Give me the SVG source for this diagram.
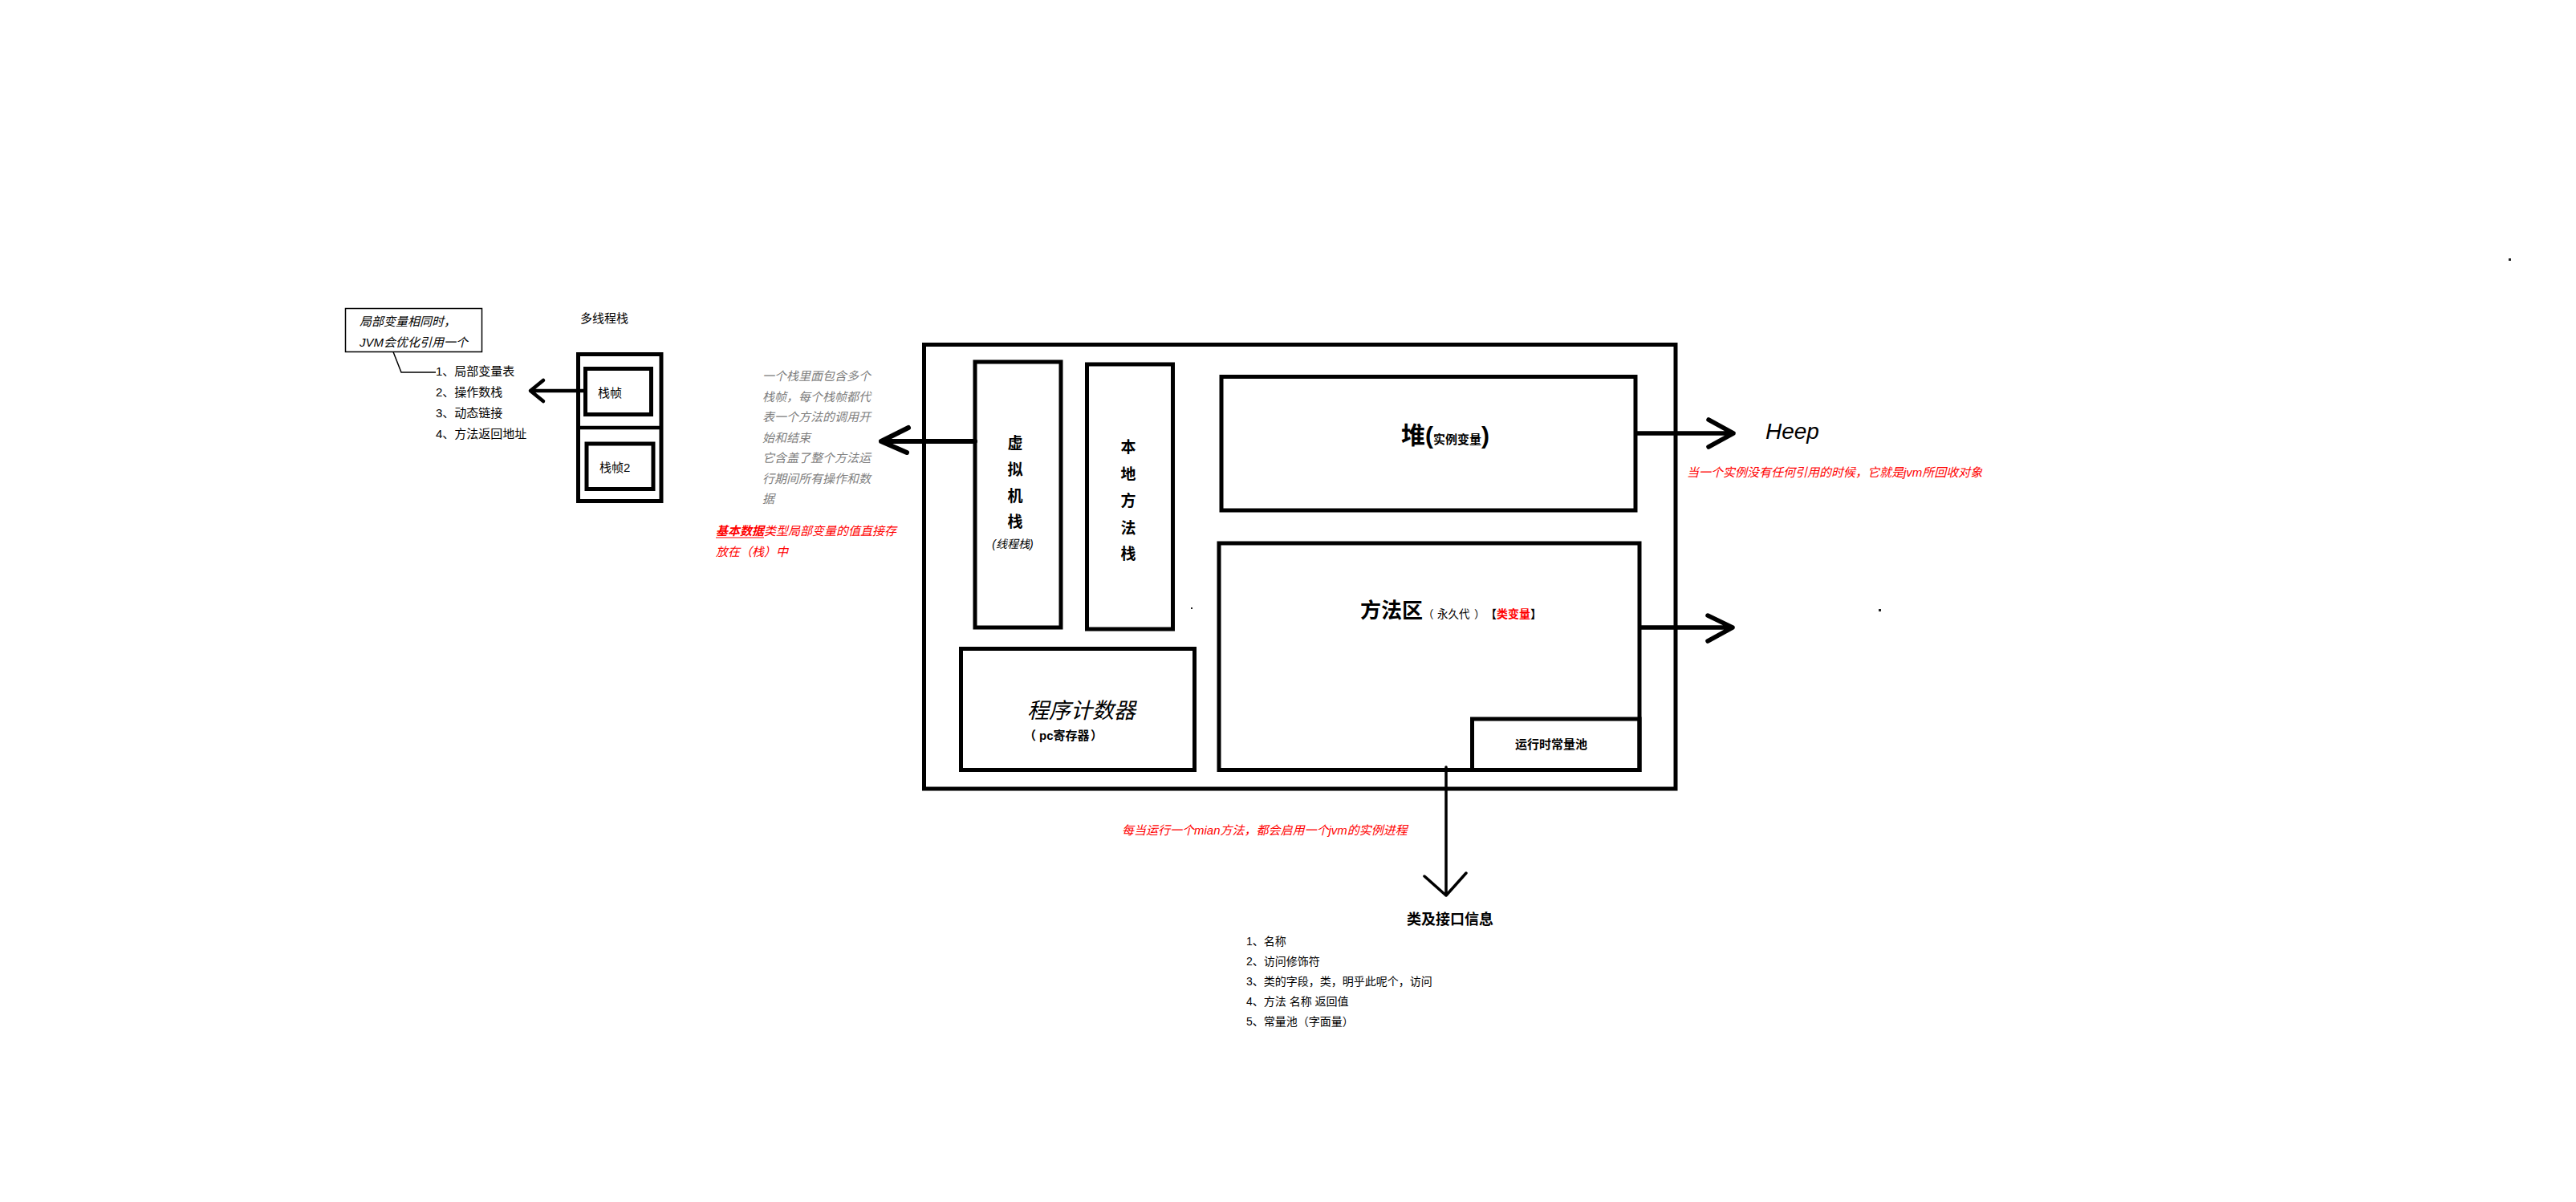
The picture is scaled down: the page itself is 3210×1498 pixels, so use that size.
<svg xmlns="http://www.w3.org/2000/svg" width="3210" height="1498" viewBox="0 0 3210 1498">
<style>
text{font-family:"Liberation Sans","Noto Sans CJK SC",sans-serif;fill:#000}
.box{fill:none;stroke:#000;stroke-width:5}
.thin{fill:none;stroke:#000;stroke-width:1.5}
.conn{fill:none;stroke:#000;stroke-linecap:round;stroke-linejoin:round}
.red{fill:#f00}
.gray{fill:#7f7f7f}
.it{font-style:italic}
.b{font-weight:bold}
.dot{fill:#222}
</style>
<rect width="3210" height="1498" fill="#fff"/>

<g id="note">
<rect x="430.5" y="384.5" width="170" height="54" class="thin"/>
<text x="448" y="406" font-size="15" class="it">局部变量相同时，</text>
<text x="448" y="432" font-size="15" class="it">JVM会优化引用一个</text>
</g>

<g id="frame-contents">
<text x="543" y="468" font-size="15">1、局部变量表</text>
<text x="543" y="494" font-size="15">2、操作数栈</text>
<text x="543" y="520" font-size="15">3、动态链接</text>
<text x="543" y="546" font-size="15">4、方法返回地址</text>
</g>

<g id="thread-stack">
<text x="723" y="402" font-size="15">多线程栈</text>
<rect x="720.5" y="441.5" width="103.5" height="183" class="box"/>
<line x1="720.5" y1="533" x2="824" y2="533" stroke="#000" stroke-width="4.5"/>
</g>
<g id="frame1">
<rect x="729.5" y="459.5" width="82" height="57" class="box"/>
<text x="745" y="495" font-size="15">栈帧</text>
</g>
<g id="frame2">
<rect x="731" y="553" width="83" height="56.5" class="box"/>
<text x="747" y="588" font-size="15">栈帧2</text>
</g>

<g id="stack-desc">
<text x="950" y="474" font-size="15" class="it gray">一个栈里面包含多个</text>
<text x="950" y="500" font-size="15" class="it gray">栈帧，每个栈帧都代</text>
<text x="950" y="525" font-size="15" class="it gray">表一个方法的调用开</text>
<text x="950" y="551" font-size="15" class="it gray">始和结束</text>
<text x="950" y="576" font-size="15" class="it gray">它含盖了整个方法运</text>
<text x="950" y="602" font-size="15" class="it gray">行期间所有操作和数</text>
<text x="950" y="627" font-size="15" class="it gray">据</text>
</g>

<g id="primitive-note">
<text x="892" y="667" font-size="15" class="it red"><tspan class="b">基本数据</tspan>类型局部变量的值直接存</text>
<line x1="892" y1="670" x2="952" y2="670" stroke="#f00" stroke-width="1.2"/>
<text x="892" y="693" font-size="15" class="it red">放在（栈）中</text>
</g>

<g id="jvm">
<rect x="1151.5" y="429.5" width="936.5" height="553.5" class="box"/>
</g>

<g id="vm-stack">
<rect x="1215" y="451" width="107" height="331" class="box"/>
<text x="1265" y="559" font-size="19" class="b" text-anchor="middle">虚</text>
<text x="1265" y="592" font-size="19" class="b" text-anchor="middle">拟</text>
<text x="1265" y="625" font-size="19" class="b" text-anchor="middle">机</text>
<text x="1265" y="657" font-size="19" class="b" text-anchor="middle">栈</text>
<text x="1262" y="683" font-size="14" class="it" text-anchor="middle">(线程栈)</text>
</g>

<g id="native-stack">
<rect x="1354.5" y="454" width="107" height="330" class="box"/>
<text x="1406" y="564" font-size="19" class="b" text-anchor="middle">本</text>
<text x="1406" y="598" font-size="19" class="b" text-anchor="middle">地</text>
<text x="1406" y="631" font-size="19" class="b" text-anchor="middle">方</text>
<text x="1406" y="665" font-size="19" class="b" text-anchor="middle">法</text>
<text x="1406" y="697" font-size="19" class="b" text-anchor="middle">栈</text>
</g>

<g id="pc">
<rect x="1197.5" y="808.5" width="291" height="151" class="box"/>
<text x="1280" y="895" font-size="27" class="it">程序计数器</text>
<text y="922" font-size="15" class="b"><tspan x="1276">（</tspan><tspan x="1295">pc寄存器</tspan><tspan x="1359">）</tspan></text>
</g>

<g id="heap">
<rect x="1522" y="469.5" width="516" height="166.5" class="box"/>
<text x="1746" y="553" font-size="30" class="b">堆<tspan>(</tspan><tspan font-size="15">实例变量</tspan><tspan>)</tspan></text>
</g>

<g id="method-area">
<rect x="1519" y="677" width="524" height="282.5" class="box"/>
<text x="1695" y="770" font-size="26" class="b">方法区</text>
<text y="770" font-size="13.5"><tspan x="1773">（</tspan><tspan x="1791">永久代</tspan><tspan x="1837">）</tspan></text>
<text x="1851" y="770" font-size="14" class="b">【<tspan class="red">类变量</tspan>】</text>
</g>

<g id="constant-pool">
<rect x="1834.5" y="896" width="208.5" height="63.5" class="box"/>
<text x="1888" y="933" font-size="15" class="b">运行时常量池</text>
</g>

<g id="heep">
<text x="2200" y="547" font-size="28" class="it">Heep</text>
<text x="2102" y="594" font-size="15" class="it red">当一个实例没有任何引用的时候，它就是jvm所回收对象</text>
</g>

<g id="main-note">
<text x="1398" y="1040" font-size="15" class="it red">每当运行一个mian方法，都会启用一个jvm的实例进程</text>
</g>

<g id="class-info">
<text x="1753" y="1152" font-size="18" class="b">类及接口信息</text>
<text x="1553" y="1178" font-size="14">1、名称</text>
<text x="1553" y="1203" font-size="14">2、访问修饰符</text>
<text x="1553" y="1228" font-size="14">3、类的字段，类，明乎此呢个，访问</text>
<text x="1553" y="1253" font-size="14">4、方法 名称 返回值</text>
<text x="1553" y="1278" font-size="14">5、常量池（字面量）</text>
</g>

<g id="connectors">
<path d="M490,438.5 L500,464 L543,464" class="thin"/>
<path d="M727,487 L661,487 M677,474 L661,487 L677,500" class="conn" stroke-width="4.5"/>
<path d="M1215,550 L1098,550 M1132,533 L1098,550 L1130,564" class="conn" stroke-width="6"/>
<path d="M2040,540 L2160,540 M2129,523 L2160,540 L2129,557" class="conn" stroke-width="5.5"/>
<path d="M2045,782 L2159,782 M2128,767 L2159,782 L2128,799" class="conn" stroke-width="5.5"/>
<path d="M1802,956 L1802,1116 M1775,1092 L1802,1116 L1827,1088" class="conn" stroke-width="3.5"/>
</g>

<g id="specks">
<rect x="1484" y="757" width="2" height="2" class="dot"/>
<rect x="2341" y="759" width="3" height="3" class="dot"/>
<rect x="3126" y="322" width="3" height="3" class="dot"/>
</g>
</svg>
